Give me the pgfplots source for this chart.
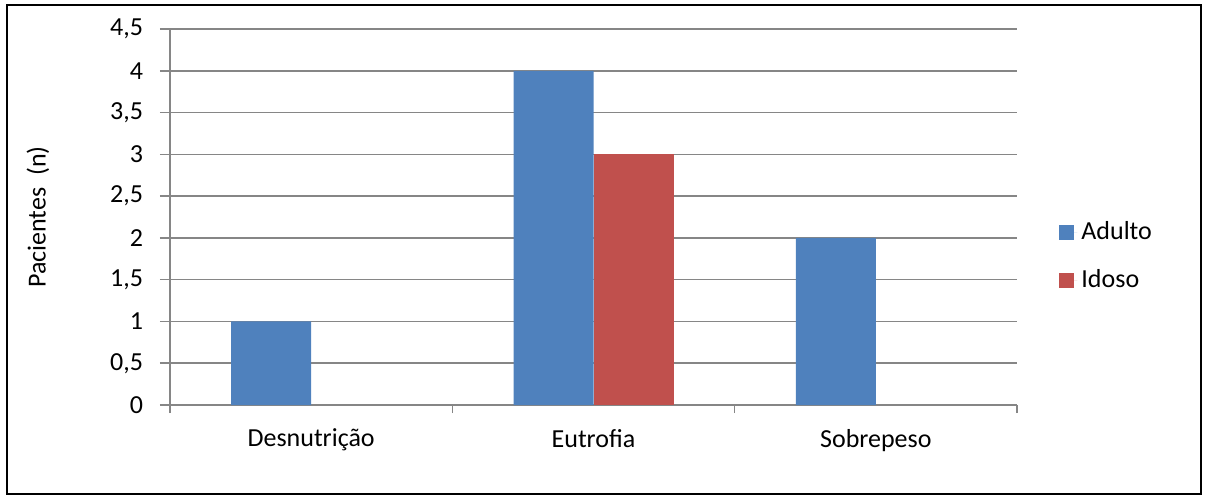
\documentclass[border=0pt]{standalone}
\usepackage{fontspec}
\setmainfont{Carlito}
\usepackage{pgfplots}
\pgfplotsset{compat=1.18}
\definecolor{cblue}{HTML}{4F81BD}
\definecolor{cred}{HTML}{C0504D}
\definecolor{cgrid}{HTML}{868686}
\begin{document}
\begin{tikzpicture}[font=\fontsize{13}{15.6}\selectfont]
\path[use as bounding box] (-85pt,-47pt) rectangle (519pt,202.5pt);
\begin{axis}[
 at={(0,0)}, anchor=south west,
 scale only axis, width=423.5pt, height=188pt,
 ybar=0pt, bar width=40pt,
 xmin=-0.5, xmax=2.5, ymin=0, ymax=4.5,
 xtick={0,1,2}, xticklabels={Desnutrição,Eutrofia,Sobrepeso},
 minor xtick={-0.5,0.5,1.5,2.5},
 ytick={0,0.5,1,1.5,2,2.5,3,3.5,4,4.5},
 /pgf/number format/use comma,
 /pgf/number format/assume math mode=true,
 axis x line*=bottom, axis y line*=left,
 axis line style={cgrid, line width=0.8pt, -},
 tick style={cgrid, line width=0.8pt},
 tick align=outside,
 major tick length=5pt, minor tick length=4pt,
 major x tick style={draw=none},
 ymajorgrids, grid style={cgrid, line width=0.8pt},
 yticklabel style={xshift=-5pt},
 xticklabel style={yshift=-3.5pt},
 ylabel={Pacientes\ \ (n)},
 ylabel style={at={(axis description cs:-0.156,0.5)}, anchor=center},
 legend style={draw=none, fill=none, at={(1.0496,0.396)}, anchor=west, row sep=9.5pt, inner sep=0pt},
 legend cell align=left,
 legend image code/.code={\fill[#1] (0pt,-3.75pt) rectangle (7.5pt,3.75pt); \path (0pt,0pt) -- (9pt,0pt);},
]
\addplot[fill=cblue, draw=none] coordinates {(0,1) (1,4) (2,2)};
\addplot[fill=cred, draw=none] coordinates {(1,3)};
\legend{Adulto, Idoso}
\end{axis}
\draw[line width=1pt] (-81.5pt,-44.5pt) rectangle (515.5pt,200pt);
\end{tikzpicture}
\end{document}
